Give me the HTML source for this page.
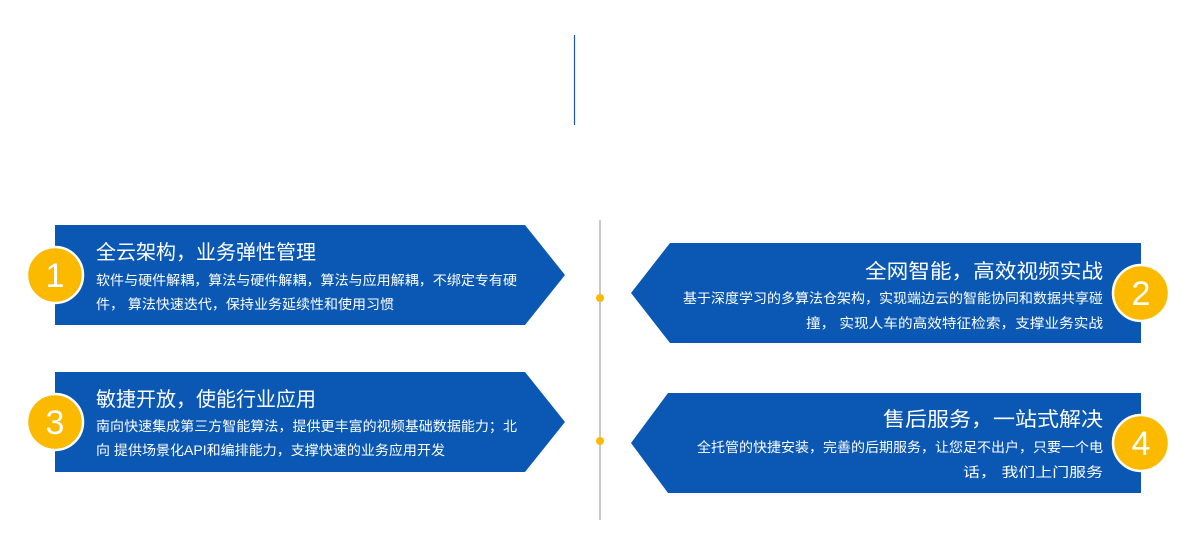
<!DOCTYPE html>
<html><head><meta charset="utf-8"><style>
html,body{margin:0;padding:0;background:#fff;width:1200px;height:540px;overflow:hidden}
text{font-family:"Liberation Sans","Noto Sans CJK SC",sans-serif;fill:#fff}
.t{font-size:20px}.d{font-size:13.5px}
.n{font-size:34px;text-anchor:middle}
</style></head><body>
<svg width="1200" height="540" xmlns="http://www.w3.org/2000/svg">
<line x1="574.5" y1="35" x2="574.5" y2="125" stroke="#1f55b0" stroke-width="1.2"/>
<line x1="600" y1="220" x2="600" y2="520" stroke="#c8c8c8" stroke-width="2"/>
<circle cx="600" cy="298" r="4" fill="#fbb900"/>
<circle cx="600" cy="441" r="4" fill="#fbb900"/>

<polygon points="55,225 525,225 565,275 525,325 55,325" fill="#0a58b3"/>
<polygon points="55,372 525,372 565,422 525,472 55,472" fill="#0a58b3"/>
<polygon points="670,243 1141,243 1141,343 670,343 631,293" fill="#0a58b3"/>
<polygon points="668,393 1141,393 1141,493 668,493 631,443" fill="#0a58b3"/>

<text class="t" x="96" y="259" textLength="220" lengthAdjust="spacingAndGlyphs">全云架构，业务弹性管理</text>
<text class="d" x="96" y="285" textLength="421" lengthAdjust="spacingAndGlyphs">软件与硬件解耦，算法与硬件解耦，算法与应用解耦，不绑定专有硬</text>
<text class="d" x="96" y="309" textLength="298" lengthAdjust="spacingAndGlyphs">件， 算法快速迭代，保持业务延续性和使用习惯</text>

<text class="t" x="96" y="406" textLength="220" lengthAdjust="spacingAndGlyphs">敏捷开放，使能行业应用</text>
<text class="d" x="96" y="431" textLength="421" lengthAdjust="spacingAndGlyphs">南向快速集成第三方智能算法，提供更丰富的视频基础数据能力；北</text>
<text class="d" x="96" y="455" textLength="349" lengthAdjust="spacingAndGlyphs">向 提供场景化API和编排能力，支撑快速的业务应用开发</text>

<text class="t" x="865" y="278" textLength="238" lengthAdjust="spacingAndGlyphs">全网智能，高效视频实战</text>
<text class="d" x="683" y="303" textLength="420" lengthAdjust="spacingAndGlyphs">基于深度学习的多算法仓架构，实现端边云的智能协同和数据共享碰</text>
<text class="d" x="806" y="328" textLength="297" lengthAdjust="spacingAndGlyphs">撞， 实现人车的高效特征检索，支撑业务实战</text>
<text class="t" x="883" y="426" textLength="220" lengthAdjust="spacingAndGlyphs">售后服务，一站式解决</text>
<text class="d" x="697" y="452" textLength="406" lengthAdjust="spacingAndGlyphs">全托管的快捷安装，完善的后期服务，让您足不出户，只要一个电</text>
<text class="d" x="963" y="477" textLength="140" lengthAdjust="spacingAndGlyphs">话， 我们上门服务</text>

<g fill="#fbb900" stroke="#fff" stroke-width="2.5">
<circle cx="55" cy="275" r="28"/>
<circle cx="55" cy="422" r="28"/>
<circle cx="1141" cy="293" r="28"/>
<circle cx="1141" cy="443" r="28"/>
</g>
<text class="n" x="55" y="287">1</text>
<text class="n" x="55" y="434">3</text>
<text class="n" x="1141" y="305">2</text>
<text class="n" x="1141" y="455">4</text>
</svg>
</body></html>
